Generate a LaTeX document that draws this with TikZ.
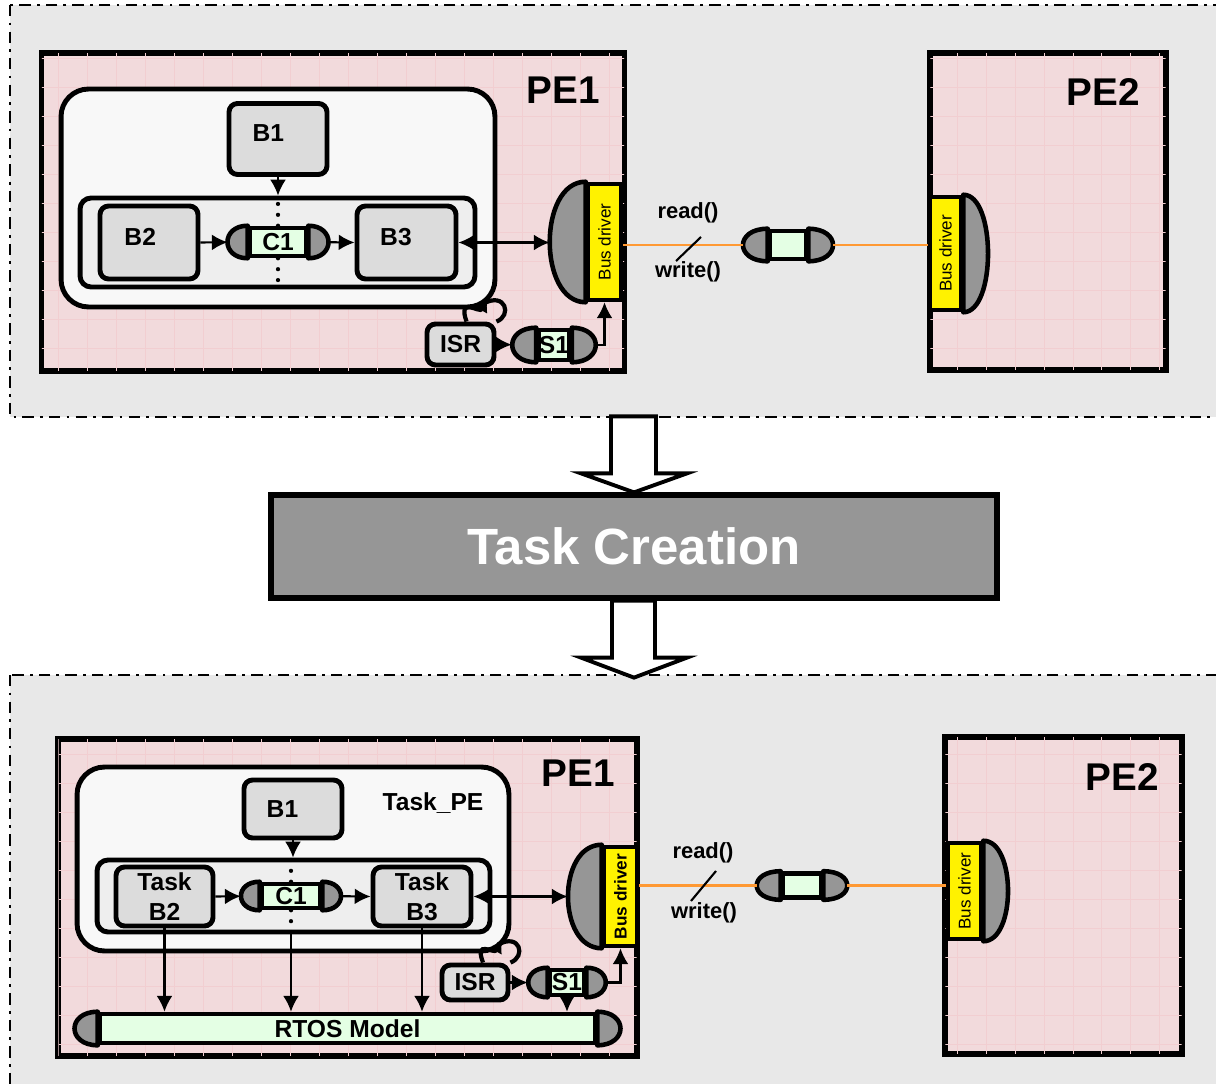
\documentclass[tikz,border=0pt]{standalone}
\usepackage{fontspec}
\setmainfont{Liberation Sans}
\usetikzlibrary{positioning}
\usetikzlibrary{calc, arrows.meta}

\definecolor{frameGray}{RGB}{232,232,232}
\definecolor{pePink}{RGB}{242,218,220}
\definecolor{peGridCol}{RGB}{242,206,209}
\definecolor{peWhite}{RGB}{248,248,248}
\definecolor{grpGray}{RGB}{238,238,238}
\definecolor{blkGray}{RGB}{220,220,220}
\definecolor{capGray}{RGB}{150,150,150}
\definecolor{chGreen}{RGB}{228,255,228}
\definecolor{busOrange}{RGB}{255,153,51}

\begin{document}
\begin{tikzpicture}
[
	x=0.02cm, y=-0.02cm,
	frame/.style={draw, fill=frameGray, line width=1.6pt, dash pattern=on 6.5pt off 3.5pt on 1.6pt off 3.5pt},
	pe/.style={draw, rectangle, fill=pePink, line width=3pt, inner sep=0pt},
	peGrid/.style={draw=peGridCol, line width=0.35pt},
	pelbl/.style={font=\bfseries\fontsize{22}{26}\selectfont, inner sep=0pt},
	shell/.style={draw, rectangle, fill=peWhite, line width=2.8pt, rounded corners=0.55cm, inner sep=0pt},
	grp/.style={draw, rectangle, fill=grpGray, line width=2.8pt, rounded corners=0.22cm, inner sep=0pt},
	blk/.style={draw, rectangle, fill=blkGray, line width=2.8pt, rounded corners=0.17cm, inner sep=0pt, align=center, font=\bfseries\fontsize{14}{17}\selectfont},
	blktxt/.style={font=\bfseries\fontsize{14}{17}\selectfont, inner sep=0pt},
	chan/.style={draw, rectangle, fill=chGreen, line width=2.6pt, inner sep=0pt, font=\bfseries\fontsize{14}{15}\selectfont},
	endcap/.style={draw, fill=capGray, line width=2.6pt, line join=round},
	busdrv/.style={draw, rectangle, fill=yellow, line width=2.6pt, inner sep=0pt, font=\fontsize{9.7}{10}\selectfont},
	arr/.style={-{Latex[length=9pt, width=9pt]}, line width=1.2pt},
	darr/.style={{Latex[length=9pt, width=9pt]}-{Latex[length=9pt, width=9pt]}, line width=1.2pt},
	dots/.style={line width=2.4pt, line cap=round, dash pattern=on 0pt off 6.2pt},
	wire/.style={draw=busOrange, line width=1.4pt},
	slash/.style={line width=1.2pt},
	callbl/.style={font=\bfseries\fontsize{12.5}{14}\selectfont, inner sep=0pt},
	irq/.style={line width=2.4pt},
	irqarr/.style={irq, -{Latex[length=7pt, width=8pt]}},
	hollow/.style={draw, fill=white, line width=2.2pt, line join=miter},
	tcbox/.style={draw, rectangle, fill=capGray, line width=3pt, inner sep=0pt, text=white, font=\bfseries\fontsize{29}{32}\selectfont}
]
	\useasboundingbox (0,0) rectangle (1216,1084);

	% the two design levels
	\filldraw[frame] (10,5) rectangle (1240,417);
	\filldraw[frame] (10,675) rectangle (1240,1110);

	% ---------- before task creation ----------
	\node[pe, minimum width=11.66cm, minimum height=6.36cm] (PEa) at (333,212) {};
	\node[pe, minimum width=4.72cm, minimum height=6.34cm] (PEb) at (1048,211.5) {};
	\foreach \p in {PEa, PEb} {
		\begin{scope}
			\clip ([shift={(3,-3)}]\p.south west) rectangle ([shift={(-3,3)}]\p.north east);
			\draw[peGrid, step=0.58cm] (\p.south west) grid (\p.north east);
		\end{scope}
	}
	\node[pelbl] (PEaLbl) at (563,90) {PE1};
	\node[pelbl] (PEbLbl) at (1103,92) {PE2};

	\node[shell, minimum width=8.68cm, minimum height=4.36cm] (shellA) at (278,198) {};
	\node[blk, minimum width=1.96cm, minimum height=1.42cm, label={[blktxt, xshift=-5.5pt, yshift=3.4pt]center:B1}] (B1a) at (278,139) {};
	\node[grp, minimum width=7.9cm, minimum height=1.78cm] (grpA) at (277.5,242.5) {};
	\node[blk, minimum width=1.96cm, minimum height=1.46cm, label={[blktxt, xshift=-5pt, yshift=3pt]center:B2}] (B2a) at (149,242.5) {};
	\node[chan, minimum width=1.12cm, minimum height=0.56cm] (C1a) at (278,242) {C1};
	\node[blk, minimum width=1.98cm, minimum height=1.46cm, label={[blktxt, xshift=-6pt, yshift=3pt]center:B3}] (B3a) at (406.5,242.5) {};

	\node[busdrv, minimum width=0.66cm, minimum height=2.32cm] (busA) at (604.5,242) {\rotatebox{90}{Bus driver}};
	\node[busdrv, minimum width=0.62cm, minimum height=2.26cm] (busB) at (945.5,253.5) {\rotatebox{90}{Bus driver}};
	\draw[endcap] (busA.north west) .. controls +(-48,0) and +(-48,0) .. (busA.south west) -- cycle;
	\draw[endcap] (busB.north east) .. controls +(33,0) and +(33,0) .. (busB.south east) -- cycle;

	\node[blk, minimum width=1.34cm, minimum height=0.82cm] (ISRa) at (460.5,344.5) {ISR};
	\node[chan, minimum width=0.62cm, minimum height=0.6cm] (S1a) at (554,345) {S1};
	\node[chan, minimum width=0.72cm, minimum height=0.56cm] (chA) at (788,245) {};

	\node[callbl] (rdA) at (688,213) {read()};
	\node[callbl] (wrA) at (688,272) {write()};

	% ---------- refinement step ----------
	\node[tcbox, minimum width=14.52cm, minimum height=2.06cm] (tc) at (634,546.5) {Task Creation};
	\draw[hollow] (tc.north) -- ++(-53,-19) -- ++(30,0) -- ++(0,-57) -- ++(45,0) -- ++(0,57) -- ++(31,0) -- cycle;
	\draw[hollow] ($(tc.south)+(0,77)$) -- ++(-53,-20) -- ++(31,0) -- ++(0,-57) -- ++(43,0) -- ++(0,57) -- ++(32,0) -- cycle;

	% ---------- after task creation ----------
	\node[pe, minimum width=11.58cm, minimum height=6.34cm] (PEc) at (347.5,897.5) {};
	\node[pe, minimum width=4.74cm, minimum height=6.34cm] (PEd) at (1063.5,895.5) {};
	\foreach \p in {PEc, PEd} {
		\begin{scope}
			\clip ([shift={(3,-3)}]\p.south west) rectangle ([shift={(-3,3)}]\p.north east);
			\draw[peGrid, step=0.58cm] (\p.south west) grid (\p.north east);
		\end{scope}
	}
	\node[pelbl] (PEcLbl) at (578,773) {PE1};
	\node[pelbl] (PEdLbl) at (1122,777) {PE2};

	\node[shell, minimum width=8.64cm, minimum height=3.68cm] (shellB) at (293,859) {};
	\node[blktxt] (taskPE) at (433,803) {Task\_PE};
	\node[blk, minimum width=1.96cm, minimum height=1.16cm, label={[blktxt, xshift=-6pt]center:B1}] (B1b) at (293,809) {};
	\node[grp, minimum width=7.86cm, minimum height=1.44cm] (grpB) at (293.5,896) {};
	\node[blk, minimum width=1.94cm, minimum height=1.18cm] (TB2) at (164.5,896.5) {Task\\B2};
	\node[chan, minimum width=1.16cm, minimum height=0.48cm] (C1b) at (291,896) {C1};
	\node[blk, minimum width=1.96cm, minimum height=1.18cm] (TB3) at (422,896.5) {Task\\B3};

	\node[busdrv, font=\bfseries\fontsize{9.8}{10}\selectfont, minimum width=0.66cm, minimum height=1.98cm] (busC) at (620.5,896.5) {\rotatebox{90}{Bus driver}};
	\node[busdrv, minimum width=0.66cm, minimum height=1.92cm] (busD) at (964.5,891) {\rotatebox{90}{Bus driver}};
	\draw[endcap] (busC.north west) .. controls +(-45,0) and +(-45,0) .. (busC.south west) -- cycle;
	\draw[endcap] (busD.north east) .. controls +(33,0) and +(33,0) .. (busD.south east) -- cycle;

	\node[blk, minimum width=1.32cm, minimum height=0.7cm] (ISRb) at (475,982.5) {ISR};
	\node[chan, minimum width=0.68cm, minimum height=0.5cm] (S1b) at (567,982.5) {S1};
	\node[chan, minimum width=0.76cm, minimum height=0.48cm] (chB) at (802,885.5) {};
	\node[chan, minimum width=9.9cm, minimum height=0.58cm] (RTOS) at (347.5,1028.5) {RTOS Model};

	\node[callbl] (rdB) at (703,853) {read()};
	\node[callbl] (wrB) at (704,913) {write()};

	% channel end caps
	\foreach \n/\c in {C1a/27, S1a/32, chA/33, C1b/25, S1b/26, chB/32, RTOS/31} {
		\draw[endcap] (\n.north west) .. controls +(-\c,0) and +(-\c,0) .. (\n.south west) -- cycle;
		\draw[endcap] (\n.north east) .. controls +(\c,0) and +(\c,0) .. (\n.south east) -- cycle;
	}

	% connections, top level
	\draw[arr] (B1a) -- (B1a |- grpA.north);
	\draw[dots] (C1a.north) -- (C1a |- grpA.north);
	\draw[dots] (C1a.south) -- (C1a |- grpA.south);
	\draw[arr, shorten >=0.4cm] (B2a.east) -- (C1a.west);
	\draw[arr, shorten <=0.4cm] (C1a.east) -- (B3a.west);
	\draw[darr, shorten >=0.72cm] (B3a.east) -- (busA.west |- B3a.east);
	\draw[arr, shorten >=0.49cm] (ISRa.east) -- (S1a.west);
	\draw[arr] ($(S1a.east)+(24,0)$) -| (busA.south);
	\draw[irqarr] ($(ISRa.north)+(6,0)$) .. controls +(-9,-26) and +(-8,14) .. ($(ISRa.north)+(27,-22)$);
	\draw[irq] ($(ISRa.north)+(23,-18)$) .. controls +(22,-12) and +(16,-6) .. (ISRa.north east);
	\draw[wire] (busA.east |- chA) -- ($(chA.west)+(-25,0)$);
	\draw[wire] ($(chA.east)+(25,0)$) -- (busB.west |- chA);
	\draw[slash] (701,237) -- (676,261);

	% connections, task level
	\draw[arr] (B1b) -- (B1b |- grpB.north);
	\draw[dots] (C1b.north) -- (C1b |- grpB.north);
	\draw[dots] (C1b.south) -- (C1b |- grpB.south);
	\draw[arr, shorten >=0.38cm] (TB2.east) -- (C1b.west);
	\draw[arr, shorten <=0.38cm] (C1b.east) -- (TB3.west);
	\draw[darr, shorten >=0.68cm] (TB3.east) -- (busC.west |- TB3.east);
	\draw[arr] (TB2.south) -- (TB2.south |- RTOS.north);
	\draw[arr] (grpB.south -| C1b) -- (RTOS.north -| C1b);
	\draw[arr] (TB3.south) -- (TB3.south |- RTOS.north);
	\draw[arr, shorten >=0.4cm] (ISRb.east) -- (S1b.west);
	\draw[arr] (S1b.south) -- (S1b.south |- RTOS.north);
	\draw[arr] ($(S1b.east)+(20,0)$) -| (busC.south);
	\draw[irqarr] ($(ISRb.north)+(8,0)$) .. controls +(-9,-24) and +(-8,14) .. ($(ISRb.north)+(27,-22)$);
	\draw[irq] ($(ISRb.north)+(23,-18)$) .. controls +(22,-12) and +(16,-6) .. (ISRb.north east);
	\draw[wire] (busC.east |- chB) -- ($(chB.west)+(-24,0)$);
	\draw[wire] ($(chB.east)+(24,0)$) -- (busD.west |- chB);
	\draw[slash] (716,871) -- (691,901);
\end{tikzpicture}
\end{document}
